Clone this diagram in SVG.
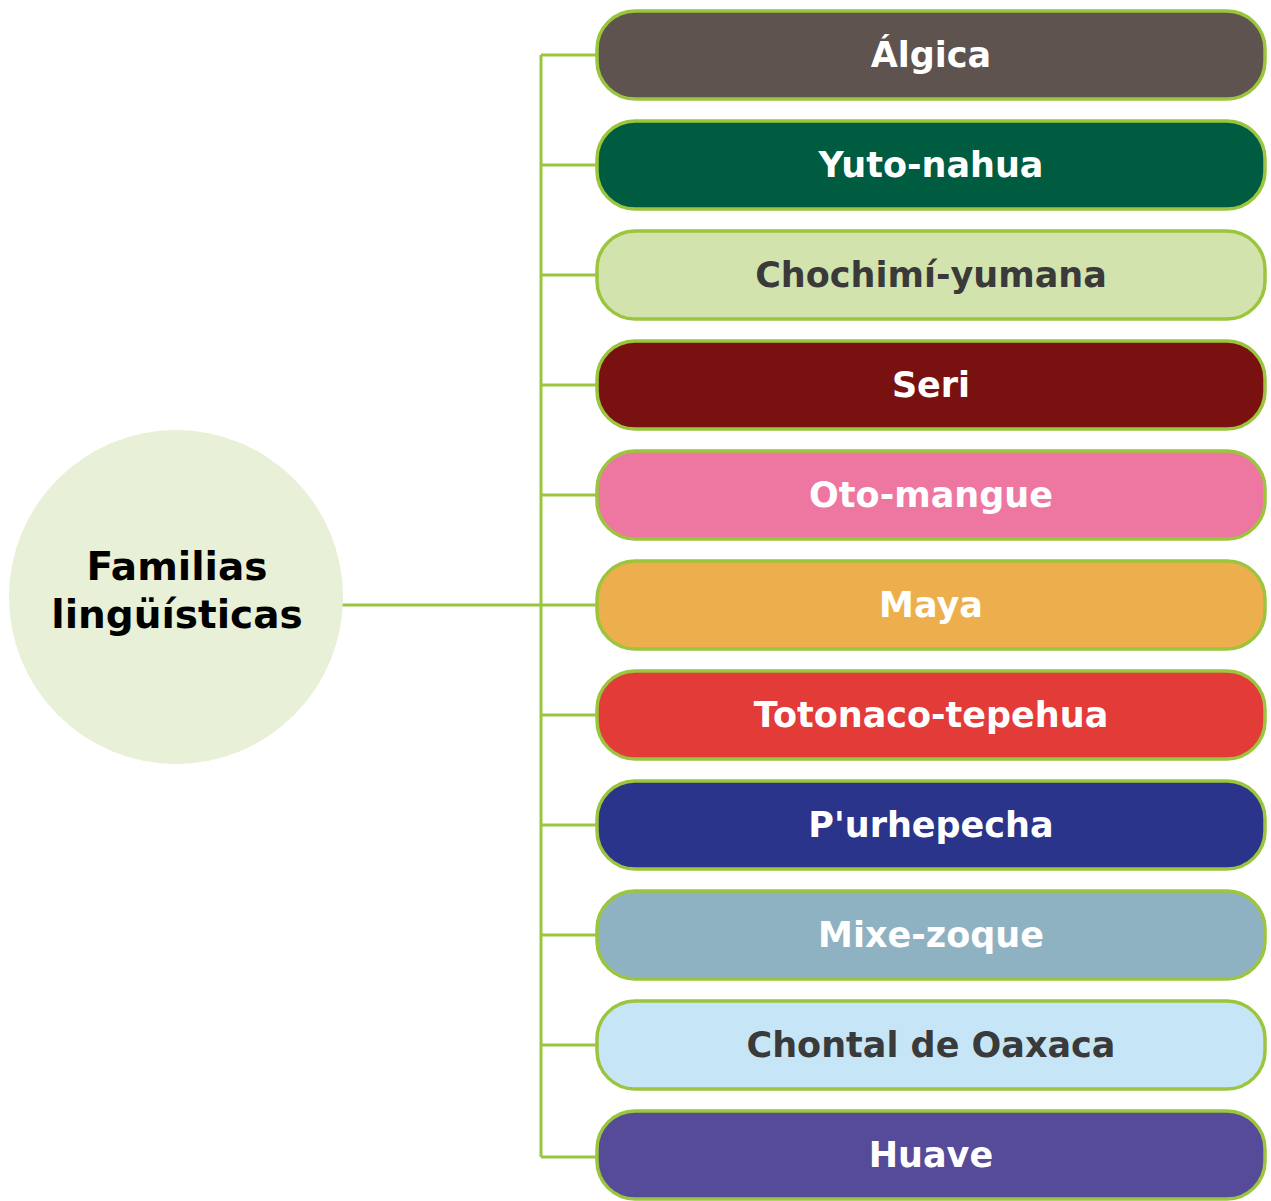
<svg xmlns="http://www.w3.org/2000/svg" width="1271" height="1201" viewBox="0 0 1271 1201">
<style>
.box{stroke:#9BC53D;stroke-width:3.5}
.lbl{font-family:"DejaVu Sans",sans-serif;font-weight:bold;font-size:35px;text-anchor:middle;dominant-baseline:central;fill:#fff}
.dark{fill:#3a3a3a}
.conn{stroke:#9BC53D;stroke-width:3;fill:none}
.hub{font-family:"DejaVu Sans",sans-serif;font-weight:bold;font-size:39px;text-anchor:middle;fill:#000}
</style>
<rect width="1271" height="1201" fill="#fff"/>
<g id="connectors">
<path class="conn" d="M342 605H541M541 55V1157M541 55H598M541 165H598M541 275H598M541 385H598M541 495H598M541 605H598M541 715H598M541 825H598M541 935H598M541 1045H598M541 1157H598"/>
</g>
<g id="hub">
<circle cx="176" cy="597" r="167" fill="#E8F0D7"/>
<text class="hub" x="177" y="580">Familias</text>
<text class="hub" x="177" y="628">lingüísticas</text>
</g>
<g id="n1"><rect class="box" x="597" y="11" width="668" height="88" rx="38" fill="#5F534F"/><text class="lbl" x="931" y="55">Álgica</text></g>
<g id="n2"><rect class="box" x="597" y="121" width="668" height="88" rx="38" fill="#005C41"/><text class="lbl" x="931" y="165">Yuto-nahua</text></g>
<g id="n3"><rect class="box" x="597" y="231" width="668" height="88" rx="38" fill="#D3E3AE"/><text class="lbl dark" x="931" y="275">Chochimí-yumana</text></g>
<g id="n4"><rect class="box" x="597" y="341" width="668" height="88" rx="38" fill="#7A1111"/><text class="lbl" x="931" y="385">Seri</text></g>
<g id="n5"><rect class="box" x="597" y="451" width="668" height="88" rx="38" fill="#EE77A2"/><text class="lbl" x="931" y="495">Oto-mangue</text></g>
<g id="n6"><rect class="box" x="597" y="561" width="668" height="88" rx="38" fill="#EDAF4D"/><text class="lbl" x="931" y="605">Maya</text></g>
<g id="n7"><rect class="box" x="597" y="671" width="668" height="88" rx="38" fill="#E33B38"/><text class="lbl" x="931" y="715">Totonaco-tepehua</text></g>
<g id="n8"><rect class="box" x="597" y="781" width="668" height="88" rx="38" fill="#29348A"/><text class="lbl" x="931" y="825">P'urhepecha</text></g>
<g id="n9"><rect class="box" x="597" y="891" width="668" height="88" rx="38" fill="#8FB2C2"/><text class="lbl" x="931" y="935">Mixe-zoque</text></g>
<g id="n10"><rect class="box" x="597" y="1001" width="668" height="88" rx="38" fill="#C6E6F8"/><text class="lbl dark" x="931" y="1045">Chontal de Oaxaca</text></g>
<g id="n11"><rect class="box" x="597" y="1111" width="668" height="88" rx="38" fill="#564B99"/><text class="lbl" x="931" y="1155">Huave</text></g>
</svg>
